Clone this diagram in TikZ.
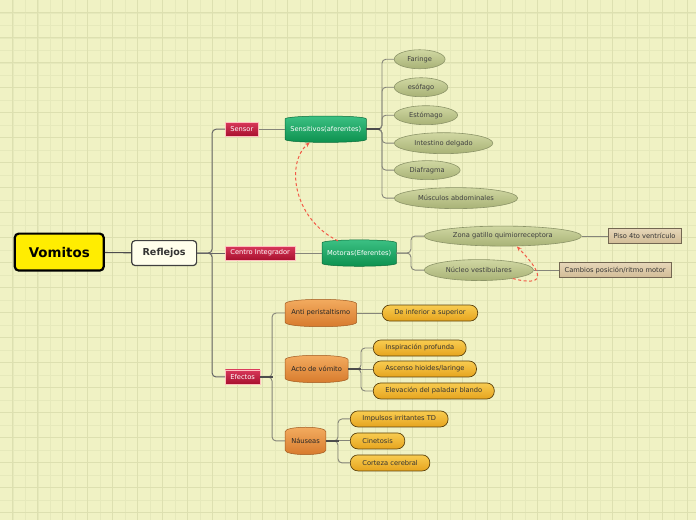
\documentclass[tikz,border=0pt]{standalone}
\usepackage{fontspec}
\setmainfont{DejaVu Sans}
\usetikzlibrary{arrows.meta,shapes.geometric,backgrounds}

\definecolor{fondo}{HTML}{F0F2C4}
\definecolor{rejilla}{HTML}{E6E9BB}
\definecolor{rejillab}{HTML}{DDE0B0}
\definecolor{linea}{HTML}{85857A}
\definecolor{rojoA}{HTML}{D8385A}
\definecolor{rojoB}{HTML}{A8102E}
\definecolor{verdeA}{HTML}{3DC285}
\definecolor{verdeB}{HTML}{0B8F4C}
\definecolor{olivoA}{HTML}{D0D7A2}
\definecolor{olivoB}{HTML}{A8B276}
\definecolor{olivoD}{HTML}{8C9468}
\definecolor{naranjaA}{HTML}{F4AE62}
\definecolor{naranjaB}{HTML}{D6782A}
\definecolor{amarA}{HTML}{F8CC50}
\definecolor{amarB}{HTML}{E6A41E}
\definecolor{tostA}{HTML}{E6D6B8}
\definecolor{tostB}{HTML}{D2BC96}
\definecolor{flecha}{HTML}{F25A47}

% forma de barril detras de un nodo ya puesto
\newcommand{\barril}[4]{%
  \shade[top color=#3, bottom color=#4, draw=#4!75!black, line width=0.5pt]
    (#1.north west) .. controls ([yshift=#2]#1.north west) and ([yshift=#2]#1.north east) .. (#1.north east)
    -- (#1.south east) .. controls ([yshift=-#2]#1.south east) and ([yshift=-#2]#1.south west) .. (#1.south west) -- cycle;}

\begin{document}
\begin{tikzpicture}[x=1pt, y=-1pt,
    every node/.style={font=\fontsize{6.7}{8}\selectfont, inner sep=0pt},
    conn/.style={draw=linea, line width=0.9pt, rounded corners=4pt},
    stub/.style={draw=black!70, line width=1.6pt},
    raiz/.style={draw=black, line width=2.2pt, rounded corners=4pt, fill=yellow!95!orange,
        minimum width=89, minimum height=37, font=\fontsize{13.4}{15}\selectfont\bfseries},
    refl/.style={draw=black!75, line width=1.2pt, rounded corners=3.5pt, fill=white!92!yellow,
        minimum width=65, minimum height=25, text=black!80, font=\fontsize{9.6}{11}\selectfont\bfseries},
    rojo/.style={anchor=west, top color=rojoA, bottom color=rojoB, draw=red!25!white, line width=0.5pt,
        minimum height=14, inner xsep=5pt, text=white},
    verde/.style={anchor=west, minimum height=20, inner xsep=5pt, text=white},
    naranja/.style={anchor=west, minimum height=18, inner xsep=6pt, text=black!85},
    hoja/.style={anchor=west, ellipse, top color=olivoA, bottom color=olivoB, draw=olivoD, line width=0.6pt,
        minimum height=19, inner xsep=5.7pt, text=black!75},
    caja/.style={anchor=west, top color=tostA, bottom color=tostB, draw=black!45!tostB, line width=0.6pt,
        minimum height=15, inner xsep=5.5pt, text=black!80},
    pastilla/.style={anchor=west, rounded corners=7.5pt, top color=amarA, bottom color=amarB,
        draw=black!60!amarB, line width=0.7pt, minimum height=16, inner xsep=12pt, text=black!80},
    enlace/.style={draw=flecha, line width=1pt, dashed, dash pattern=on 3pt off 2.5pt, -{Stealth[length=5pt,width=4pt]}}
]
  % fondo cuadriculado
  \begin{scope}[on background layer]
    \fill[fondo] (0,0) rectangle (696,520);
    \foreach \i in {1,...,55} \draw[rejilla, line width=0.5pt] (\i*12.5,0) -- (\i*12.5,520);
    \foreach \j in {1,...,41} \draw[rejilla, line width=0.5pt] (0,\j*12.5) -- (696,\j*12.5);
    \foreach \i in {0,...,27} \draw[rejillab, line width=0.6pt] (12.5+\i*25,0) -- (12.5+\i*25,520);
    \foreach \j in {0,...,20} \draw[rejillab, line width=0.6pt] (0,12.5+\j*25) -- (696,12.5+\j*25);
  \end{scope}
  \useasboundingbox (0,0) rectangle (696,520);

  % raiz y primer nivel
  \node[raiz] (vom) at (59,252) {Vomitos};
  \node[refl] (refl) at (164,253) {Reflejos};
  \node[rojo] (sensor) at (225,129) {Sensor};
  \node[rojo] (centro) at (225,253) {Centro Integrador};
  \node[rojo] (efectos) at (225,377) {Efectos};

  % vias
  \node[verde] (sens) at (285,129) {Sensitivos(aferentes)};
  \node[verde] (mot) at (322,253) {Motoras(Eferentes)};

  \node[hoja] (far) at (394,59) {Faringe};
  \node[hoja] (eso) at (394,87) {esófago};
  \node[hoja] (est) at (394,115) {Estómago};
  \node[hoja, minimum height=21] (int) at (394,143) {Intestino delgado};
  \node[hoja] (dia) at (394,170) {Diafragma};
  \node[hoja, minimum height=21] (mus) at (394,198) {Músculos abdominales};

  \node[hoja, minimum height=20] (zona) at (424,236) {Zona gatillo quimiorreceptora};
  \node[hoja, minimum height=21] (nuc) at (424,270) {Núcleo vestibulares};
  \node[caja] (piso) at (608,236) {Piso 4to ventrículo};
  \node[caja] (camb) at (559,270) {Cambios posición/ritmo motor};

  % efectos
  \node[naranja] (anti) at (285,313) {Anti peristaltismo};
  \node[naranja] (acto) at (285,369) {Acto de vómito};
  \node[naranja] (nau) at (285,441) {Náuseas};

  \node[pastilla] (infsup) at (382,313) {De inferior a superior};
  \node[pastilla] (insp) at (373,348) {Inspiración profunda};
  \node[pastilla] (asc) at (373,369) {Ascenso hioides/laringe};
  \node[pastilla] (elev) at (373,391) {Elevación del paladar blando};
  \node[pastilla] (imp) at (350,419) {Impulsos irritantes TD};
  \node[pastilla] (cin) at (350,441) {Cinetosis};
  \node[pastilla] (cort) at (350,463) {Corteza cerebral};

  % barriles detras del texto
  \begin{scope}[on background layer]
    \barril{sens}{4pt}{verdeA}{verdeB}
    \barril{mot}{4pt}{verdeA}{verdeB}
    \barril{anti}{6pt}{naranjaA}{naranjaB}
    \barril{acto}{6pt}{naranjaA}{naranjaB}
    \barril{nau}{6pt}{naranjaA}{naranjaB}
  \end{scope}

  % conexiones
  \draw[draw=black!70, line width=1.1pt] (vom) -- (refl);
  \draw[draw=black!60, line width=1pt] (refl) -- (centro);
  \foreach \h in {sensor, efectos}
    \draw[conn, draw=black!60, line width=1pt] (refl.east) -| ([xshift=-13pt]\h.west) -- (\h.west);
  \draw[conn] (sensor) -- (sens);
  \draw[conn] (centro) -- (mot);
  \foreach \h in {far, eso, est, int, dia, mus}
    \draw[conn] (sens.east) -| ([xshift=-12pt]\h.west) -- (\h.west);
  \draw[stub] (sens.east) -- ([xshift=14pt]sens.east);
  \foreach \h in {zona, nuc}
    \draw[conn] (mot.east) -| ([xshift=-13pt]\h.west) -- (\h.west);
  \draw[conn] (zona) -- (piso);
  \draw[conn] (nuc) -- (camb);

  \foreach \h in {anti, nau}
    \draw[conn] (efectos.east) -| ([xshift=-13pt]\h.west) -- (\h.west);
  \draw[stub] (efectos.east) -- ([xshift=13pt]efectos.east);
  \draw[conn] (anti) -- (infsup);
  \foreach \h in {insp, elev}
    \draw[conn] (acto.east) -| ([xshift=-12pt]\h.west) -- (\h.west);
  \draw[conn] (acto) -- (asc);
  \draw[stub] (acto.east) -- ([xshift=13pt]acto.east);
  \foreach \h in {imp, cort}
    \draw[conn] (nau.east) -| ([xshift=-12pt]\h.west) -- (\h.west);
  \draw[conn] (nau) -- (cin);
  \draw[stub] (nau.east) -- ([xshift=13pt]nau.east);

  % relaciones punteadas
  \draw[enlace] ([xshift=16pt,yshift=2pt]mot.north west) .. controls (292,218) and (286,162) .. ([xshift=-16pt,yshift=-3pt]sens.south);
  \draw[enlace] (nuc.-14) .. controls (550,288) and (540,270) .. ([xshift=14pt]zona.south);
\end{tikzpicture}
\end{document}
